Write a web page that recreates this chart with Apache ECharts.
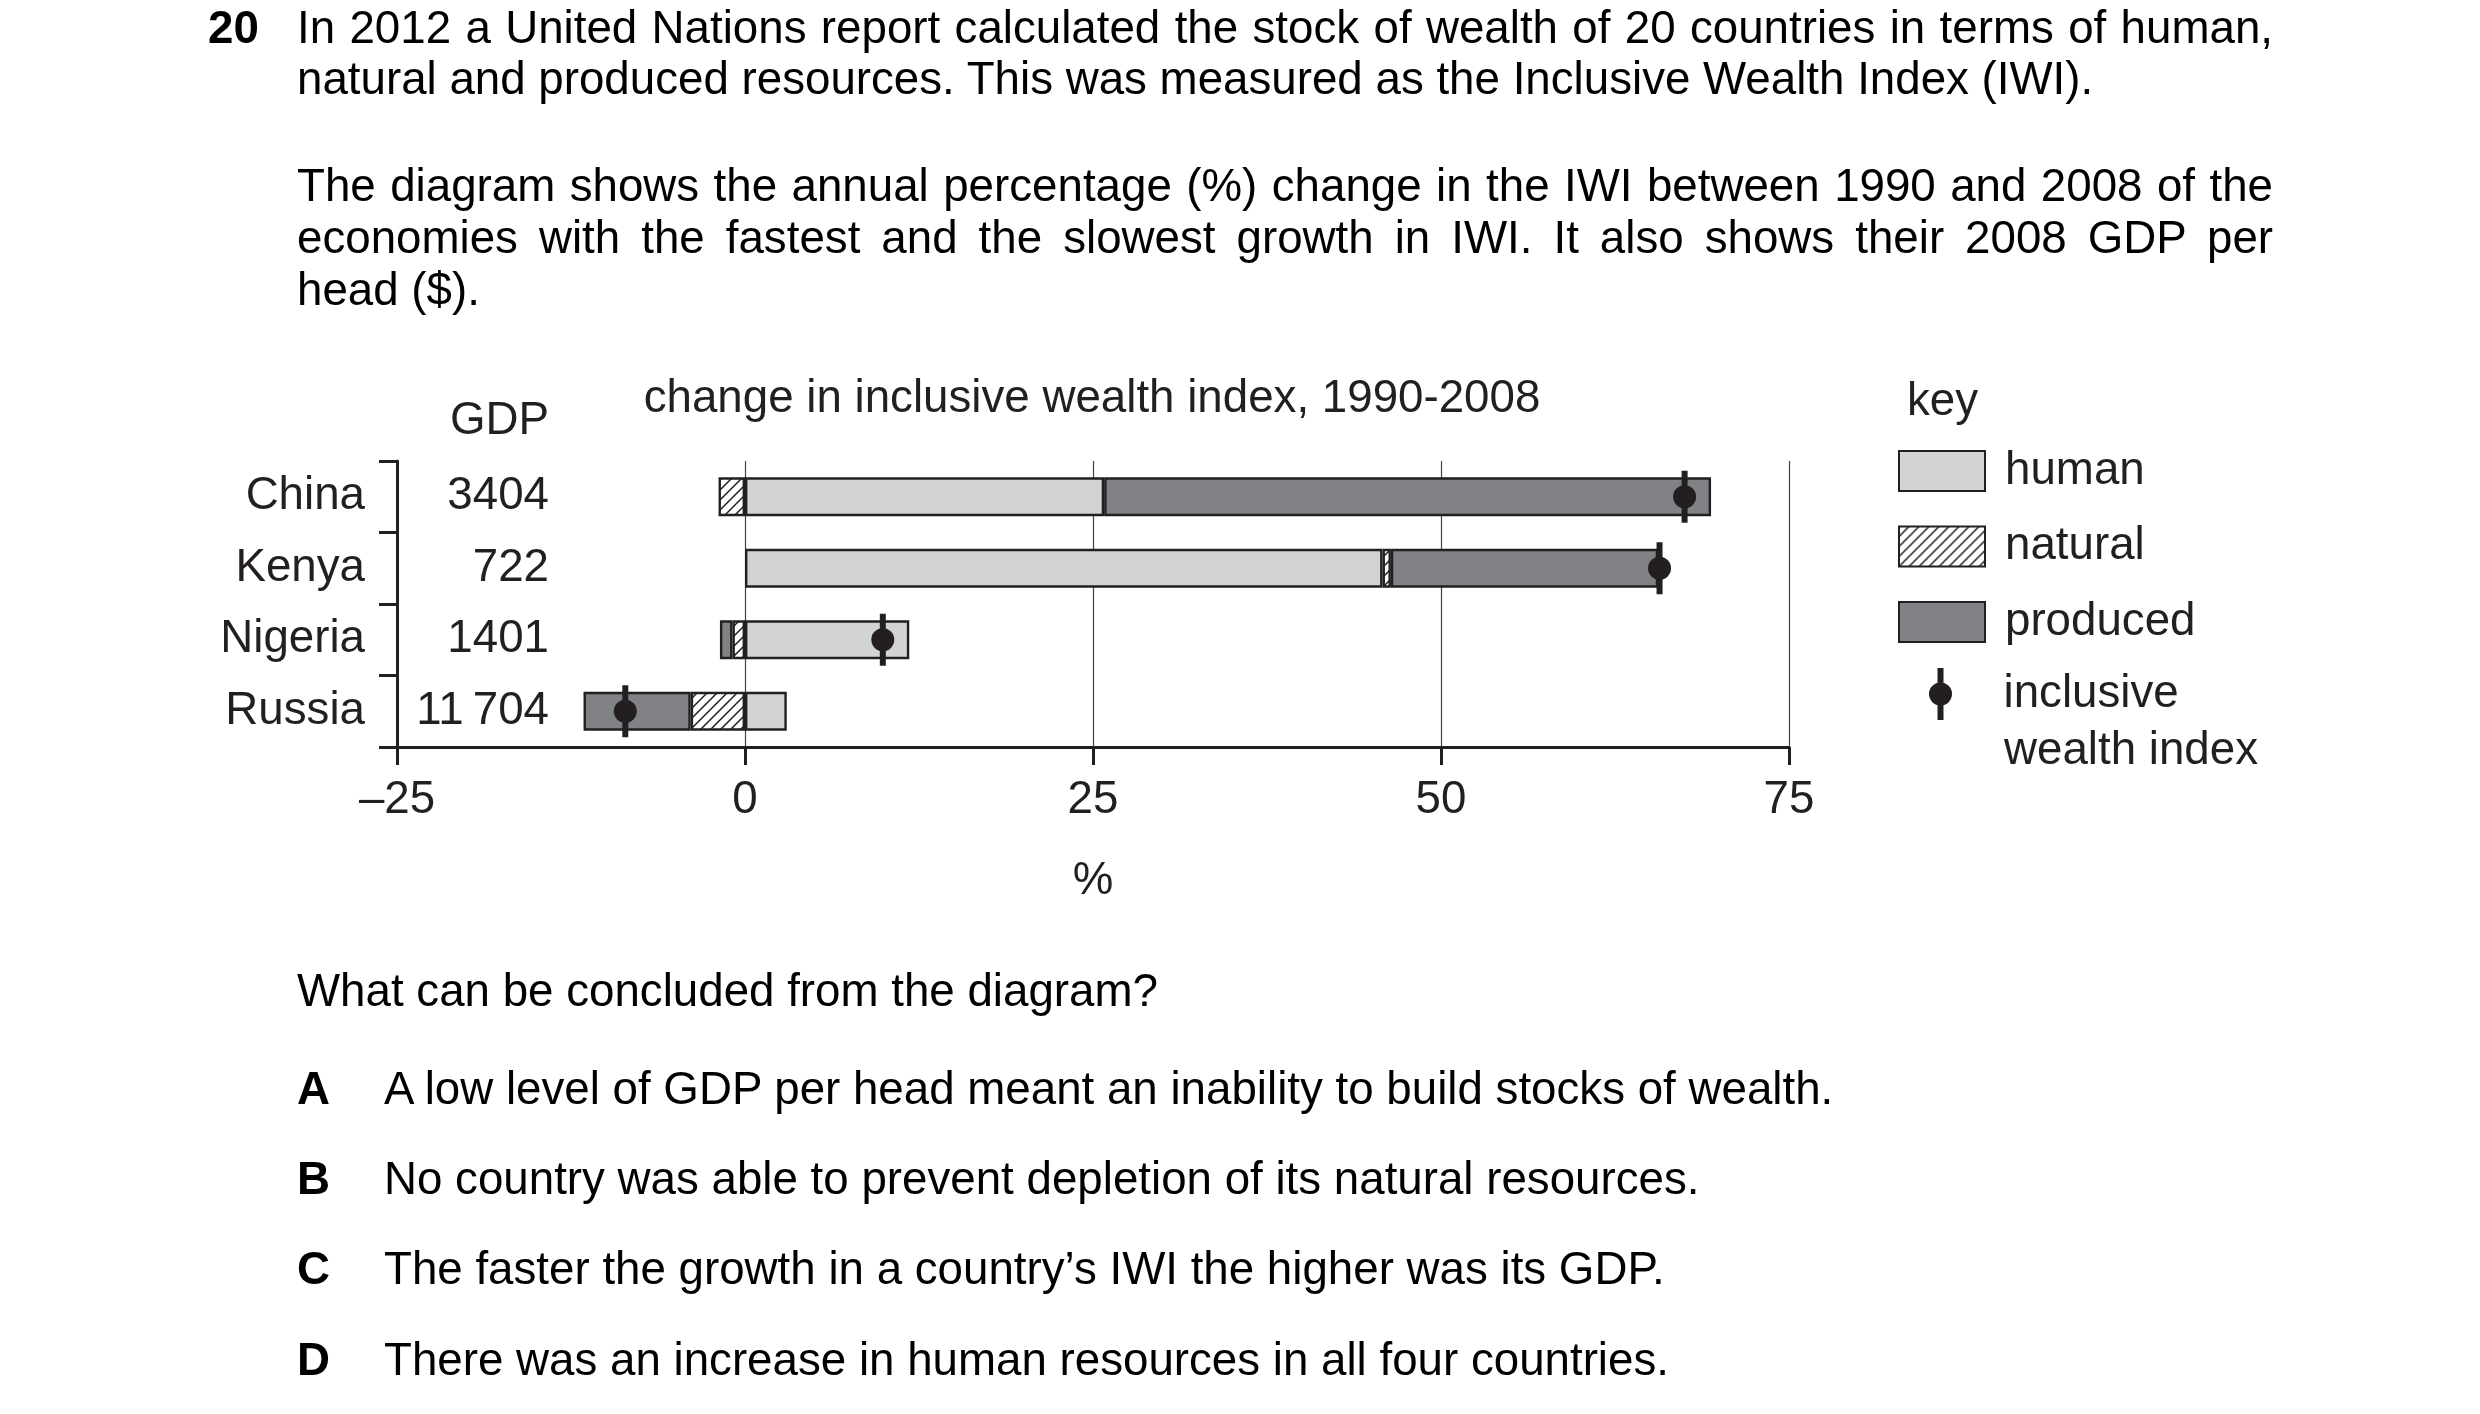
<!DOCTYPE html>
<html>
<head>
<meta charset="utf-8">
<title>Inclusive wealth index</title>
<script src="https://cdn.jsdelivr.net/npm/echarts@6.0.0/dist/echarts.min.js"></script>
<style>
  html, body { margin: 0; padding: 0; background: #fff; }
  #page { position: relative; width: 2480px; height: 1414px; overflow: hidden;
          font-family: 'Liberation Sans', Arial, sans-serif; font-size: 45.7px; color: #000; }
  #chart { position: absolute; left: 0; top: 0; width: 2480px; height: 1414px; }
  .ln { position: absolute; line-height: 52px; white-space: nowrap; }
  .b { font-weight: bold; }
</style>
</head>
<body>
<div id="page">
  <div id="chart"></div>

  <div class="ln b" style="left:208px; top:2px">20</div>
  <div class="ln just" style="left:297px; top:2px">In 2012 a United Nations report calculated the stock of wealth of 20 countries in terms of human,</div>
  <div class="ln" style="left:297px; top:53px">natural and produced resources. This was measured as the Inclusive Wealth Index (IWI).</div>

  <div class="ln just" style="left:297px; top:160px">The diagram shows the annual percentage (%) change in the IWI between 1990 and 2008 of the</div>
  <div class="ln just" style="left:297px; top:212px">economies with the fastest and the slowest growth in IWI. It also shows their 2008 GDP per</div>
  <div class="ln" style="left:297px; top:264px">head ($).</div>

  <div class="ln" style="left:297px; top:965px">What can be concluded from the diagram?</div>
  <div class="ln b" style="left:297px; top:1063px">A</div>
  <div class="ln" style="left:384px; top:1063px">A low level of GDP per head meant an inability to build stocks of wealth.</div>
  <div class="ln b" style="left:297px; top:1153px">B</div>
  <div class="ln" style="left:384px; top:1153px">No country was able to prevent depletion of its natural resources.</div>
  <div class="ln b" style="left:297px; top:1243px">C</div>
  <div class="ln" style="left:384px; top:1243px">The faster the growth in a country’s IWI the higher was its GDP.</div>
  <div class="ln b" style="left:297px; top:1334px">D</div>
  <div class="ln" style="left:384px; top:1334px">There was an increase in human resources in all four countries.</div>
</div>

<script>
// stretch the justified lines to the full text width
var TEXT_W = 1976;
document.querySelectorAll('.just').forEach(function (el) {
  var gaps = (el.textContent.match(/ /g) || []).length;
  var extra = (TEXT_W - el.getBoundingClientRect().width) / gaps;
  el.style.wordSpacing = extra + 'px';
});

// data
var countries = ['China', 'Kenya', 'Nigeria', 'Russia'];
var gdp = ['3404', '722', '1401', '11\u2009704'];
var human = [25.8, 45.8, 11.8, 3.0];
var natural = [-1.9, 0.6, -0.9, -3.9];
var produced = [43.6, 19.2, -0.9, -7.7];
var iwi = [67.5, 65.7, 9.9, -8.6];
var xTicks = [-25, 0, 25, 50, 75];

var INK = '#231f20';
var FONT = 'Liberation Sans';
var FS = 45.7;

// diagonal hatching for "natural"
function hatch() {
  var s = 10;
  var c = document.createElement('canvas');
  c.width = s; c.height = s;
  var g = c.getContext('2d');
  g.fillStyle = '#fff';
  g.fillRect(0, 0, s, s);
  g.strokeStyle = INK;
  g.lineWidth = 1.5;
  g.beginPath();
  g.moveTo(0, s); g.lineTo(s, 0);
  g.moveTo(-2, 2); g.lineTo(2, -2);
  g.moveTo(s - 2, s + 2); g.lineTo(s + 2, s - 2);
  g.stroke();
  return c;
}

// key icon: bar with a dot on it
var IWI_PATH = 'path://M-3,-26L3,-26L3,26L-3,26Z M0,-11.5A11.5,11.5 0 1 1 0,11.5A11.5,11.5 0 1 1 0,-11.5Z';

var txt = { fontFamily: FONT, fontSize: FS, color: INK };
var head = Object.assign({ fontWeight: 'normal', lineHeight: 46 }, txt);

var barStyle = function (color) {
  return { color: color, borderColor: INK, borderWidth: 2.4 };
};

// IWI marker: vertical bar through a dot
function renderIwi(params, api) {
  var p = api.coord([api.value(0), api.value(1)]);
  return {
    type: 'group',
    children: [
      { type: 'rect', shape: { x: p[0] - 3, y: p[1] - 26, width: 6, height: 52 }, style: { fill: INK } },
      { type: 'circle', shape: { cx: p[0], cy: p[1], r: 11.5 }, style: { fill: INK } }
    ]
  };
}

var myChart = echarts.init(document.getElementById('chart'), null, { renderer: 'canvas' });

var option = {
  animation: false,
  backgroundColor: 'transparent',
  title: [
    { text: 'change in inclusive wealth index, 1990-2008', left: 1092, top: 376, textAlign: 'center',
      padding: 0, textStyle: head },
    { text: 'GDP', left: 549, top: 398, textAlign: 'right', padding: 0, textStyle: head },
    { text: 'key', left: 1907, top: 379, padding: 0, textStyle: head },
    { text: 'wealth index', left: 2004, top: 728, padding: 0, textStyle: head }
  ],
  legend: [
    {
      orient: 'vertical', left: 1898, top: 448, padding: 0,
      itemWidth: 86, itemHeight: 40, itemGap: 29.5,
      selectedMode: false,
      data: [{ name: 'human', icon: 'rect' }, { name: 'natural', icon: 'rect' }, { name: 'produced', icon: 'rect' }],
      textStyle: Object.assign({ padding: [0, 0, 0, 15] }, txt)
    },
    {
      orient: 'vertical', left: 1929, top: 668, padding: 0,
      itemWidth: 86, itemHeight: 52,
      selectedMode: false,
      data: [{ name: 'inclusive wealth index', icon: IWI_PATH }],
      formatter: function () { return 'inclusive'; },
      textStyle: Object.assign({ padding: [0, 0, 0, 15] }, txt)
    }
  ],
  grid: { left: 397, top: 461, width: 1392, height: 286, containLabel: false },
  xAxis: {
    type: 'value',
    min: xTicks[0], max: xTicks[xTicks.length - 1], interval: 25,
    name: '%', nameLocation: 'middle', nameGap: 111,
    nameTextStyle: txt,
    axisLine: { show: true, lineStyle: { color: INK, width: 3 } },
    axisTick: { show: true, length: 18, lineStyle: { color: INK, width: 3 } },
    axisLabel: Object.assign({
      margin: 30,
      formatter: function (v) { return v < 0 ? '\u2013' + (-v) : String(v); }
    }, txt),
    splitLine: { show: true, lineStyle: { color: '#444', width: 1.2 } }
  },
  yAxis: [
    {
      type: 'category', data: countries, inverse: true, position: 'left',
      axisLine: { show: true, onZero: false, lineStyle: { color: INK, width: 3 } },
      axisTick: { show: true, length: 18, lineStyle: { color: INK, width: 3 } },
      axisLabel: Object.assign({ margin: 32, interval: 0 }, txt),
      splitLine: { show: false }
    },
    {
      type: 'category', data: countries, inverse: true, position: 'left',
      axisLine: { show: false, onZero: false },
      axisTick: { show: false },
      axisLabel: Object.assign({
        margin: -152, interval: 0, align: 'right',
        formatter: function (v, i) { return gdp[i]; }
      }, txt),
      splitLine: { show: false }
    }
  ],
  series: [
    { name: 'human', type: 'bar', stack: 'iwi', barWidth: 39, data: human, itemStyle: barStyle('#d1d3d4') },
    { name: 'natural', type: 'bar', stack: 'iwi', barWidth: 39, data: natural,
      itemStyle: barStyle({ image: hatch(), repeat: 'repeat' }) },
    { name: 'produced', type: 'bar', stack: 'iwi', barWidth: 39, data: produced, itemStyle: barStyle('#808285') },
    {
      name: 'inclusive wealth index', type: 'custom', z: 5,
      renderItem: renderIwi,
      encode: { x: 0, y: 1 },
      data: iwi.map(function (v, i) { return [v, i]; }),
      itemStyle: { color: INK }
    }
  ]
};
myChart.setOption(option);
</script>
</body>
</html>
